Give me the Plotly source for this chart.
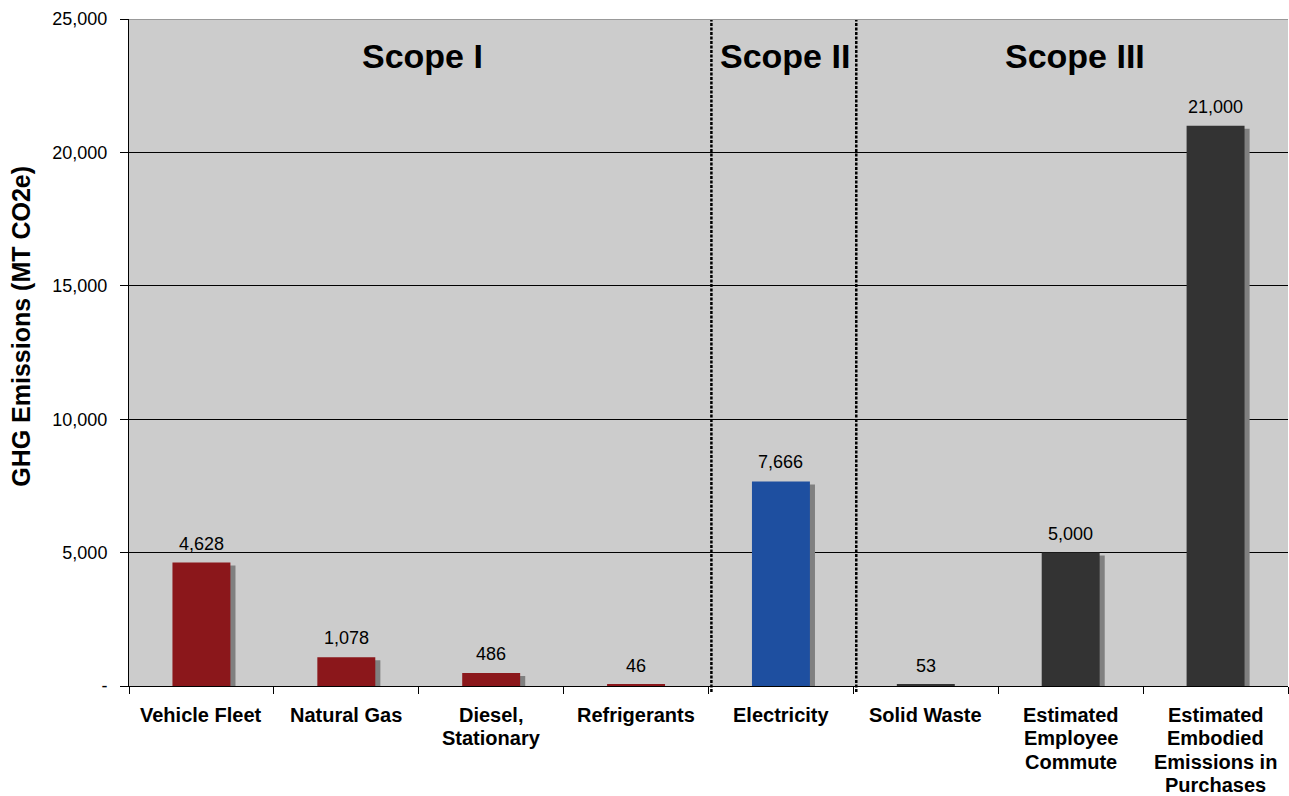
import plotly.graph_objects as go

# Emission sources and their annual totals (MT CO2e)
categories = ["Vehicle Fleet", "Natural Gas", "Diesel, Stationary", "Refrigerants",
              "Electricity", "Solid Waste", "Estimated Employee Commute",
              "Estimated Embodied Emissions in Purchases"]
category_lines = [["Vehicle Fleet"], ["Natural Gas"], ["Diesel,", "Stationary"],
                  ["Refrigerants"], ["Electricity"], ["Solid Waste"],
                  ["Estimated", "Employee", "Commute"],
                  ["Estimated", "Embodied", "Emissions in", "Purchases"]]
emissions = [4628, 1078, 486, 46, 7666, 53, 5000, 21000]
value_labels = ["4,628", "1,078", "486", "46", "7,666", "53", "5,000", "21,000"]
scope_names = ["Scope I", "Scope II", "Scope III"]
scope_centers = [1.5, 4, 6]
y_ticks = [0, 5000, 10000, 15000, 20000, 25000]
y_tick_text = ["-", "5,000", "10,000", "15,000", "20,000", "25,000"]
y_title = "GHG Emissions (MT CO2e)"

RED, BLUE, DARK = "#8B171B", "#1E4FA0", "#333333"
bar_colors = [RED, RED, RED, RED, BLUE, DARK, DARK, DARK]
FONT = "Arial, Liberation Sans, sans-serif"

fig = go.Figure()

# drop shadow behind each bar, nudged right and down
fig.add_trace(go.Bar(
    x=categories, y=emissions, base=[-110] * len(emissions),
    width=0.4, offset=-0.165, marker=dict(color="#808080", line=dict(width=0)),
    hoverinfo="skip", showlegend=False,
))
fig.add_trace(go.Bar(
    x=categories, y=emissions,
    width=0.4, offset=-0.2, marker=dict(color=bar_colors, line=dict(width=0)),
    showlegend=False,
))

# value labels above the bars
for i, (v, t) in enumerate(zip(emissions, value_labels)):
    fig.add_annotation(x=i, y=v, text=t, showarrow=False, yanchor="bottom",
                       yshift=7, font=dict(family=FONT, size=18, color="#000"))

# category names under the axis, one line at a time for tight leading
for i, lines in enumerate(category_lines):
    for k, line in enumerate(lines):
        fig.add_annotation(x=i, y=0, text=f"<b>{line}</b>", showarrow=False,
                           yanchor="middle", yshift=-29 - 23.3 * k,
                           font=dict(family=FONT, size=20, color="#000"))

for name, cx in zip(scope_names, scope_centers):
    fig.add_annotation(x=cx, y=1, yref="paper", text=f"<b>{name}</b>", showarrow=False,
                       yanchor="top", yshift=-16, xshift=4,
                       font=dict(family=FONT, size=34, color="#000"))

# vertical axis title, sitting a little above the axis midpoint
fig.add_annotation(x=-0.0932, xref="paper", y=13500, text=f"<b>{y_title}</b>",
                   textangle=-90, showarrow=False, xanchor="center", yanchor="middle",
                   font=dict(family=FONT, size=25, color="#000"))

# dotted dividers between scopes
for xs in [3.52, 4.52]:
    fig.add_shape(type="line", x0=xs, x1=xs, y0=-0.009, y1=1, yref="paper",
                  line=dict(color="#000", width=2.5, dash="3px,1.5px"), layer="above")

# light border along the top of the plot area
fig.add_shape(type="line", x0=0, x1=1, xref="paper", y0=25000, y1=25000,
              line=dict(color="#999999", width=2), layer="above")

fig.update_layout(
    width=1289, height=796,
    margin=dict(l=129, r=1, t=19, b=110),
    paper_bgcolor="white", plot_bgcolor="#CCCCCC",
    barmode="overlay",
    font=dict(family=FONT, size=18, color="#000"),
    xaxis=dict(
        type="category", tickson="boundaries", ticks="outside", ticklen=7,
        tickcolor="#000", showline=True, linecolor="#000", linewidth=1,
        showgrid=False, showticklabels=False, range=[-0.5, 7.5],
    ),
    yaxis=dict(
        range=[0, 25000], tickvals=y_ticks, ticktext=y_tick_text,
        ticks="outside", ticklen=8, tickcolor="#000", ticklabelstandoff=9,
        showline=True, linecolor="#000", linewidth=1,
        showgrid=True, gridcolor="#000", gridwidth=1, zeroline=False,
        tickfont=dict(family=FONT, size=18, color="#000"),
    ),
)

fig.write_html("out.html")
